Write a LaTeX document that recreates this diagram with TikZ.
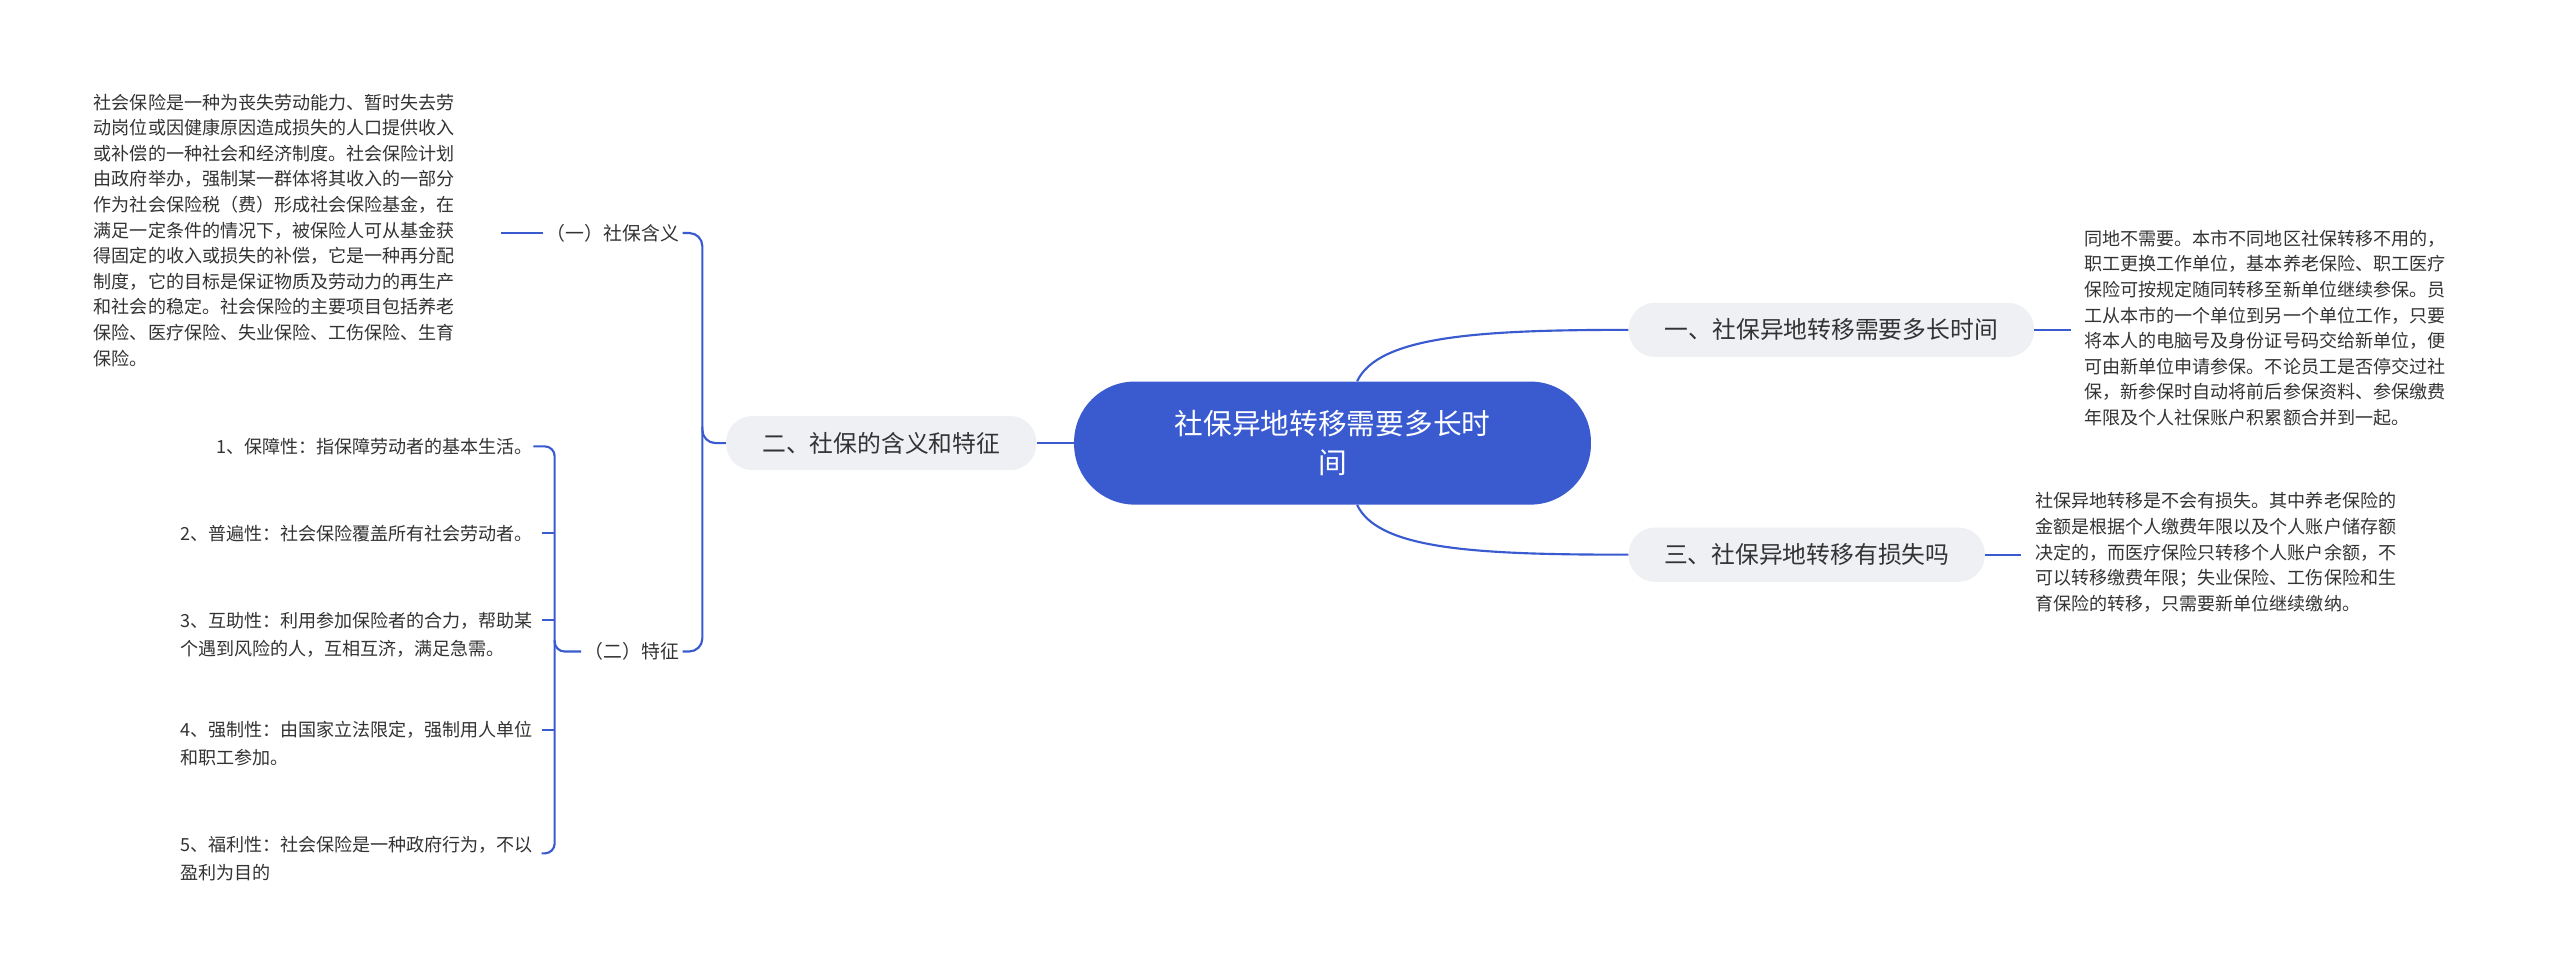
\documentclass[tikz,border=0pt]{standalone}
\usepackage{fontspec}
\setmainfont{Noto Sans CJK SC}
\definecolor{mainblue}{HTML}{3A5BCF}
\definecolor{pill}{HTML}{EEF0F4}
\definecolor{txt}{HTML}{333333}
\begin{document}
\begin{tikzpicture}[x=1pt,y=-1pt,
  conn/.style={draw=mainblue,line width=1.3pt},
  pillbox/.style={fill=pill,rounded corners=16pt,minimum height=33pt,inner xsep=14pt,font=\fontsize{14.5}{18}\selectfont,text=txt},
  para/.style={align=left,font=\fontsize{11}{15.6}\selectfont,text=txt,inner sep=0pt},
  item/.style={align=left,font=\fontsize{11}{17}\selectfont,text=txt,inner sep=0pt},
  sub/.style={font=\fontsize{11.5}{15}\selectfont,text=txt,inner sep=2pt}]
\useasboundingbox[fill=white] (0,0) rectangle (1560,592);
\node[fill=mainblue,rounded corners=37pt,minimum width=315pt,minimum height=75pt,text=white,align=center,font=\fontsize{17.5}{24}\selectfont] (c) at (812,270) {社保异地转移需要多长时\\间};
\node[pillbox,minimum width=247pt] (b1) at (1116,201) {一、社保异地转移需要多长时间};
\node[pillbox,minimum width=217pt] (b3) at (1101,338) {三、社保异地转移有损失吗};
\node[pillbox,minimum width=189pt] (b2) at (537,270) {二、社保的含义和特征};
\node[para,anchor=north west] (t1) at (1270,140) {同地不需要。本市不同地区社保转移不用的，\\职工更换工作单位，基本养老保险、职工医疗\\保险可按规定随同转移至新单位继续参保。员\\工从本市的一个单位到另一个单位工作，只要\\将本人的电脑号及身份证号码交给新单位，便\\可由新单位申请参保。不论员工是否停交过社\\保，新参保时自动将前后参保资料、参保缴费\\年限及个人社保账户积累额合并到一起。};
\node[para,anchor=north west] (t3) at (1240,300) {社保异地转移是不会有损失。其中养老保险的\\金额是根据个人缴费年限以及个人账户储存额\\决定的，而医疗保险只转移个人账户余额，不\\可以转移缴费年限；失业保险、工伤保险和生\\育保险的转移，只需要新单位继续缴纳。};
\node[sub,anchor=east] (s1) at (416,142) {（一）社保含义};
\node[sub,anchor=east] (s2) at (416,397) {（二）特征};
\node[para,anchor=north west] (p1) at (57,57) {社会保险是一种为丧失劳动能力、暂时失去劳\\动岗位或因健康原因造成损失的人口提供收入\\或补偿的一种社会和经济制度。社会保险计划\\由政府举办，强制某一群体将其收入的一部分\\作为社会保险税（费）形成社会保险基金，在\\满足一定条件的情况下，被保险人可从基金获\\得固定的收入或损失的补偿，它是一种再分配\\制度，它的目标是保证物质及劳动力的再生产\\和社会的稳定。社会保险的主要项目包括养老\\保险、医疗保险、失业保险、工伤保险、生育\\保险。};
\node[item,anchor=east] (f1) at (325,272) {1、保障性：指保障劳动者的基本生活。};
\node[item,anchor=east] (f2) at (325,325) {2、普遍性：社会保险覆盖所有社会劳动者。};
\node[item,anchor=east] (f3) at (325,387) {3、互助性：利用参加保险者的合力，帮助某\\个遇到风险的人，互相互济，满足急需。};
\node[item,anchor=east] (f4) at (325,453) {4、强制性：由国家立法限定，强制用人单位\\和职工参加。};
\node[item,anchor=east] (f5) at (325,523) {5、福利性：社会保险是一种政府行为，不以\\盈利为目的};
\path[conn] (c.north) ++(15,0) .. controls (840,205) and (900,201) .. (b1.west);
\path[conn] (c.south) ++(15,0) .. controls (840,335) and (900,338) .. (b3.west);
\path[conn] (c.west) -- (b2.east);
\path[conn] (b1.east) -- ++(22,0);
\path[conn] (b3.east) -- ++(22,0);
\path[conn,rounded corners=8pt] (b2.west) -- (428,270) -- (428,142) -- (s1.east);
\path[conn,rounded corners=8pt] (428,260) -- (428,397) -- (s2.east);
\path[conn] (s1.west) -- (305,142);
\path[conn,rounded corners=6pt] (s2.west) -- (338,397) -- (338,272) -- (f1.east);
\path[conn,rounded corners=6pt] (338,390) -- (338,520) -- (330,520);
\path[conn] (338,325) -- (330,325);
\path[conn] (338,378) -- (330,378);
\path[conn] (338,445) -- (330,445);
\end{tikzpicture}
\end{document}
